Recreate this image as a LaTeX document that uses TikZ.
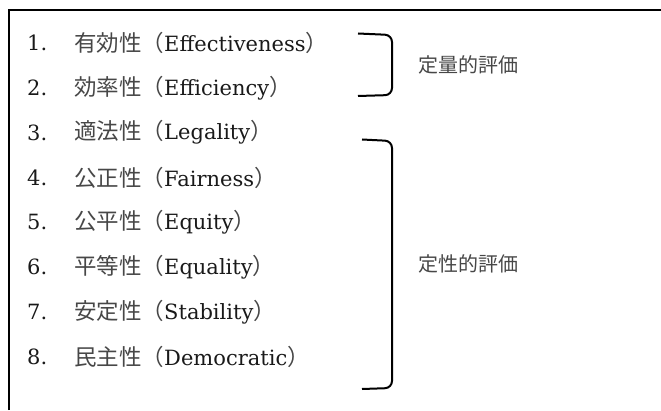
\documentclass[tikz,border=0pt]{standalone}
\usepackage{fontspec}
\setmainfont{DejaVu Serif}
\newfontfamily\jpfont{Noto Sans CJK JP}
\tikzset{
  num/.style={anchor=west, inner sep=0pt, text=black!90, font=\fontsize{21}{24}\selectfont},
  item/.style={anchor=west, inner sep=0pt, text=black!90, font=\fontsize{21}{24}\selectfont},
  lab/.style={anchor=west, inner sep=0pt, text=black!72, font=\jpfont\fontsize{20}{24}\selectfont},
  brk/.style={line width=2pt, rounded corners=7pt},
  frame/.style={line width=2pt}
}
\newcommand{\jj}[1]{{\jpfont\fontsize{22.5}{24}\selectfont\color{black!72}#1}}
\begin{document}
\begin{tikzpicture}[x=1pt,y=1pt]
\useasboundingbox (0,0) rectangle (661,410);
% frame
\coordinate (fb) at (8.5,0);
\coordinate (ftl) at (8.5,399.5);
\coordinate (fr) at (661,399.5);
\draw[frame] (fb) -- (ftl) -- (fr);
% rows
\node[num] (n1) at (27,367) {1.};
\node[item] (t1) at (74,367) {\jj{有効性（}Effectiveness\jj{）}};
\node[num] (n2) at (27,322.1) {2.};
\node[item] (t2) at (74,322.1) {\jj{効率性（}Efficiency\jj{）}};
\node[num] (n3) at (27,277.3) {3.};
\node[item] (t3) at (74,277.3) {\jj{適法性（}Legality\jj{）}};
\node[num] (n4) at (27,232.4) {4.};
\node[item] (t4) at (74,232.4) {\jj{公正性（}Fairness\jj{）}};
\node[num] (n5) at (27,187.6) {5.};
\node[item] (t5) at (74,187.6) {\jj{公平性（}Equity\jj{）}};
\node[num] (n6) at (27,142.7) {6.};
\node[item] (t6) at (74,142.7) {\jj{平等性（}Equality\jj{）}};
\node[num] (n7) at (27,97.9) {7.};
\node[item] (t7) at (74,97.9) {\jj{安定性（}Stability\jj{）}};
\node[num] (n8) at (27,53) {8.};
\node[item] (t8) at (74,53) {\jj{民主性（}Democratic\jj{）}};
% brackets
\coordinate (b1a) at (358,376.5);
\coordinate (b1b) at (392,375);
\coordinate (b1c) at (392,315);
\coordinate (b1d) at (358,314);
\draw[brk] (b1a) -- (b1b) -- (b1c) -- (b1d);
\coordinate (b2a) at (362,270.5);
\coordinate (b2b) at (392,269);
\coordinate (b2c) at (392,22);
\coordinate (b2d) at (362,21);
\draw[brk] (b2a) -- (b2b) -- (b2c) -- (b2d);
% labels
\node[lab] (q1) at (418,345) {定量的評価};
\node[lab] (q2) at (418,146) {定性的評価};
\end{tikzpicture}
\end{document}
